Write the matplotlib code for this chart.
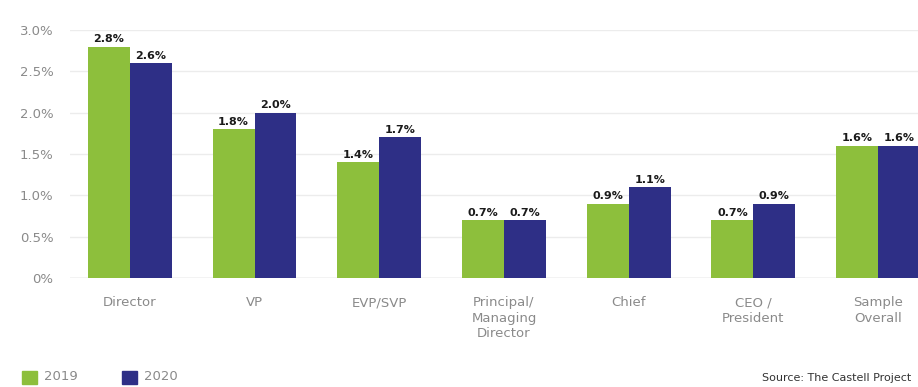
import numpy as np
import matplotlib.pyplot as plt
from matplotlib import font_manager
from matplotlib.patches import Rectangle

categories = ["Director", "VP", "EVP/SVP", "Principal/\nManaging\nDirector",
              "Chief", "CEO /\nPresident", "Sample\nOverall"]
vals_2019 = [2.8, 1.8, 1.4, 0.7, 0.9, 0.7, 1.6]
vals_2020 = [2.6, 2.0, 1.7, 0.7, 1.1, 0.9, 1.6]
yticks = [0, 0.5, 1.0, 1.5, 2.0, 2.5, 3.0]
ytick_labels = ["0%", "0.5%", "1.0%", "1.5%", "2.0%", "2.5%", "3.0%"]

green = "#8dbf3c"
navy = "#2e2f86"
grey = "#8a8a8a"

# prefer a narrow face if one is installed
have = {f.name for f in font_manager.fontManager.ttflist}
fam = [f for f in ["Liberation Sans Narrow", "DejaVu Sans Condensed"] if f in have]
fam = fam + ["DejaVu Sans"]
stretch = "normal" if fam[0] != "DejaVu Sans" else "condensed"

fig = plt.figure(figsize=(9.18, 3.87), dpi=100)
ax = fig.add_axes([70 / 918, 109 / 387, (918 - 70) / 918, (278 - 30) / 387])

x = np.arange(len(categories))
w = 0.336
b1 = ax.bar(x - w / 2, vals_2019, w, color=green, zorder=2)
b2 = ax.bar(x + w / 2, vals_2020, w, color=navy, zorder=2)

for bars, vals in ((b1, vals_2019), (b2, vals_2020)):
    for r, v in zip(bars, vals):
        ax.text(r.get_x() + r.get_width() / 2, v + 0.03, f"{v:.1f}%",
                ha="center", va="bottom", fontsize=8, fontweight="bold",
                color="#1a1a1a", family=fam)

ax.set_xlim(-0.48, 6.32)
ax.set_ylim(0, 3.0)
ax.set_yticks(yticks)
ax.set_yticklabels(ytick_labels, family=fam, fontsize=9.5, color=grey)
ax.set_xticks(x)
ax.set_xticklabels(categories, family=fam, fontsize=9.5, color=grey,
                   linespacing=1.25, va="top")
ax.tick_params(axis="x", length=0, pad=13)
ax.tick_params(axis="y", length=0, pad=12)
ax.yaxis.grid(True, color="#ececec", linewidth=1, zorder=0)
for s in ax.spines.values():
    s.set_visible(False)
ax.axhline(0, color="#d0d0d0", linewidth=1, zorder=1)

# legend along the bottom edge
fig.patches.append(Rectangle((22 / 918, 3 / 387), 15 / 918, 13 / 387,
                             color=green, transform=fig.transFigure))
fig.text(44 / 918, 10 / 387, "2019", fontsize=9.5, color=grey, family=fam,
         va="center")
fig.patches.append(Rectangle((122 / 918, 3 / 387), 15 / 918, 13 / 387,
                             color=navy, transform=fig.transFigure))
fig.text(144 / 918, 10 / 387, "2020", fontsize=9.5, color=grey, family=fam,
         va="center")
fig.text(762 / 918, 9 / 387, "Source: The Castell Project", fontsize=8,
         color="#333333", family=fam, va="center")

fig.savefig("out.png", dpi=100)
